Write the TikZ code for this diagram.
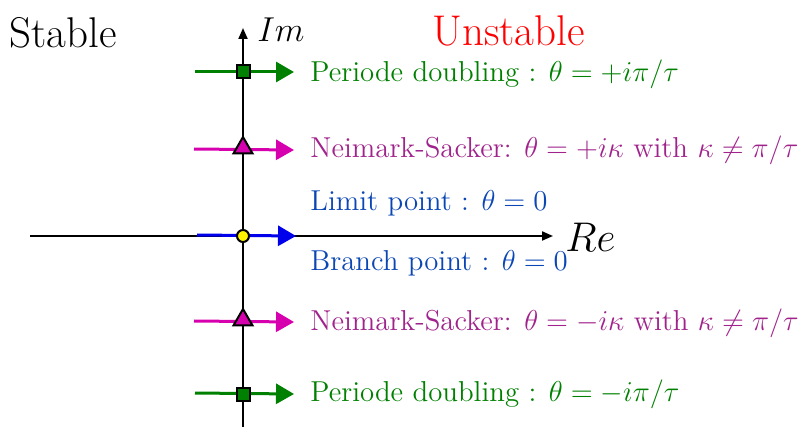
\documentclass[tikz,border=0pt]{standalone}
\usepackage{amsmath, amssymb}
\usepackage{tikz}
\usetikzlibrary{positioning, arrows.meta, shapes.geometric}

\definecolor{pdgreen}{RGB}{0,128,0}
\definecolor{nsarrow}{RGB}{215,0,175}
\definecolor{nstext}{RGB}{160,35,140}
\definecolor{lparrow}{RGB}{0,0,235}
\definecolor{lptext}{RGB}{10,70,180}

\begin{document}
\begin{tikzpicture}[x=0.5pt, y=-0.5pt, >=Triangle,
    axis/.style={draw, line width=1pt, -{Triangle[length=5.5pt, width=4.5pt]}},
    flow/.style={line width=1.5pt, -{Triangle[length=9pt, width=10pt]}},
    lbl/.style={anchor=west, font=\fontsize{14.4}{17}\selectfont, inner sep=0pt},
    big/.style={font=\fontsize{21.5}{25}\selectfont, inner sep=0pt},
    sqmark/.style={draw, line width=1pt, fill=pdgreen, minimum size=6.5pt, inner sep=0pt},
    trimark/.style={draw, line width=1pt, fill=nsarrow, regular polygon, regular polygon sides=3,
                    minimum size=11pt, inner sep=0pt},
    dotmark/.style={draw, line width=1pt, fill=yellow, circle, minimum size=6pt, inner sep=0pt}]
    \useasboundingbox (0,0) rectangle (798,427);

    % axes
    \coordinate (imlow) at (243,427);
    \coordinate (imtop) at (243,28);
    \coordinate (releft) at (30,236);
    \coordinate (reright) at (553,236);
    \draw[axis] (imlow) -- (imtop);
    \draw[axis] (releft) -- (reright);
    \node[big, anchor=west, font=\fontsize{17}{20}\selectfont] (im) at (257,30) {$Im$};
    \node[big, anchor=west, font=\fontsize{20}{24}\selectfont] (re) at (565,237) {$Re$};
    \node[big, anchor=west] (stable) at (9,33) {Stable};
    \node[big, anchor=west, text=red] (unstable) at (432,31) {Unstable};

    % period doubling (top)
    \coordinate (pdaL) at (195,72);
    \coordinate (pdaR) at (294,72);
    \draw[flow, pdgreen] (pdaL) -- (pdaR);
    \node[sqmark] (pda) at (243,72) {};
    \node[lbl, text=pdgreen] (pdatext) at (310,74) {Periode doubling : $\theta=+i\pi/\tau$};

    % Neimark-Sacker (top)
    \coordinate (nsaL) at (194,149);
    \coordinate (nsaR) at (294,150);
    \draw[flow, nsarrow] (nsaL) -- (nsaR);
    \node[trimark] (nsa) at (243,148) {};
    \node[lbl, text=nstext] (nsatext) at (310,150) {Neimark-Sacker: $\theta=+i\kappa$ with $\kappa\neq\pi/\tau$};

    % limit / branch point
    \coordinate (lpL) at (197,235);
    \coordinate (lpR) at (296,236);
    \draw[flow, lparrow] (lpL) -- (lpR);
    \node[dotmark] (lp) at (243,236) {};
    \node[lbl, text=lptext] (lptext) at (310,203) {Limit point : $\theta=0$};
    \node[lbl, text=lptext] (bptext) at (310,263) {Branch point : $\theta=0$};

    % Neimark-Sacker (bottom)
    \coordinate (nsbL) at (194,321);
    \coordinate (nsbR) at (294,322);
    \draw[flow, nsarrow] (nsbL) -- (nsbR);
    \node[trimark] (nsb) at (243,320) {};
    \node[lbl, text=nstext] (nsbtext) at (310,323) {Neimark-Sacker: $\theta=-i\kappa$ with $\kappa\neq\pi/\tau$};

    % period doubling (bottom)
    \coordinate (pdbL) at (195,393);
    \coordinate (pdbR) at (294,394);
    \draw[flow, pdgreen] (pdbL) -- (pdbR);
    \node[sqmark] (pdb) at (243,394) {};
    \node[lbl, text=pdgreen] (pdbtext) at (310,394) {Periode doubling : $\theta=-i\pi/\tau$};
\end{tikzpicture}
\end{document}
